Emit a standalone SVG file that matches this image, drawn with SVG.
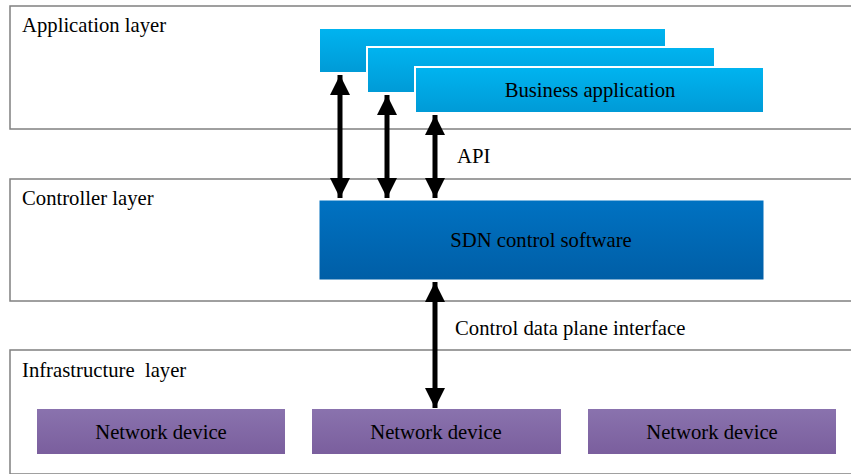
<svg xmlns="http://www.w3.org/2000/svg" width="851" height="474" viewBox="0 0 851 474">
<defs>
<linearGradient id="gBiz" x1="0" y1="0" x2="0" y2="1"><stop offset="0" stop-color="#00B4F0"/><stop offset="1" stop-color="#009AD6"/></linearGradient>
<linearGradient id="gSdn" x1="0" y1="0" x2="0" y2="1"><stop offset="0" stop-color="#0072C2"/><stop offset="1" stop-color="#005EA6"/></linearGradient>
<linearGradient id="gDev" x1="0" y1="0" x2="0" y2="1"><stop offset="0" stop-color="#8A73AE"/><stop offset="1" stop-color="#7A5E9D"/></linearGradient>
<marker id="ah" viewBox="0 0 20 20" refX="20" refY="10" markerWidth="20" markerHeight="20" markerUnits="userSpaceOnUse" orient="auto-start-reverse"><path d="M0,0 L20,10 L0,20 Z" fill="#000"/></marker>
</defs>
<style>
.layer{fill:#fff;stroke:#808080;stroke-width:1.5}
.biz{fill:url(#gBiz);stroke:#fff;stroke-width:2}
.sdn{fill:url(#gSdn);stroke:#fff;stroke-width:1}
.dev{fill:url(#gDev);stroke:#fff;stroke-width:2}
.arr{stroke:#000;stroke-width:5;fill:none;marker-start:url(#ah);marker-end:url(#ah)}
.lbl{font-family:"Liberation Serif","Times New Roman",serif;font-size:20.7px;fill:#000}
.c{text-anchor:middle}
</style>
<rect width="851" height="474" fill="#fff"/>
<g id="application-layer"><rect class="layer" x="10" y="6" width="845" height="123"/><text class="lbl" x="22" y="32">Application layer</text></g>
<g id="controller-layer"><rect class="layer" x="10" y="179" width="845" height="122"/><text class="lbl" x="22" y="205">Controller layer</text></g>
<g id="infrastructure-layer"><rect class="layer" x="10" y="350" width="845" height="124"/><text class="lbl" x="22" y="377" xml:space="preserve">Infrastructure  layer</text></g>
<g id="business-app-1"><rect class="biz" x="319" y="28" width="347" height="45"/></g>
<g id="business-app-2"><rect class="biz" x="367" y="47" width="348" height="46"/></g>
<g id="business-app-3"><rect class="biz" x="415" y="67" width="349" height="46"/><text class="lbl c" x="590" y="97">Business application</text></g>
<g id="sdn-control"><rect class="sdn" x="319" y="200" width="445" height="80"/><text class="lbl c" x="541" y="247">SDN control software</text></g>
<g id="network-device-1"><rect class="dev" x="36" y="408" width="250" height="47"/><text class="lbl c" x="161" y="439">Network device</text></g>
<g id="network-device-2"><rect class="dev" x="311" y="408" width="251" height="47"/><text class="lbl c" x="436" y="439">Network device</text></g>
<g id="network-device-3"><rect class="dev" x="587" y="408" width="250" height="47"/><text class="lbl c" x="712" y="439">Network device</text></g>
<g id="connectors">
<line class="arr" x1="340" y1="75" x2="340" y2="198"/>
<line class="arr" x1="387" y1="95" x2="387" y2="198"/>
<line class="arr" x1="435" y1="115" x2="435" y2="198"/>
<line class="arr" x1="435" y1="282" x2="435" y2="408"/>
<text class="lbl" x="457" y="163">API</text>
<text class="lbl" x="455" y="335">Control data plane interface</text>
</g>
</svg>
